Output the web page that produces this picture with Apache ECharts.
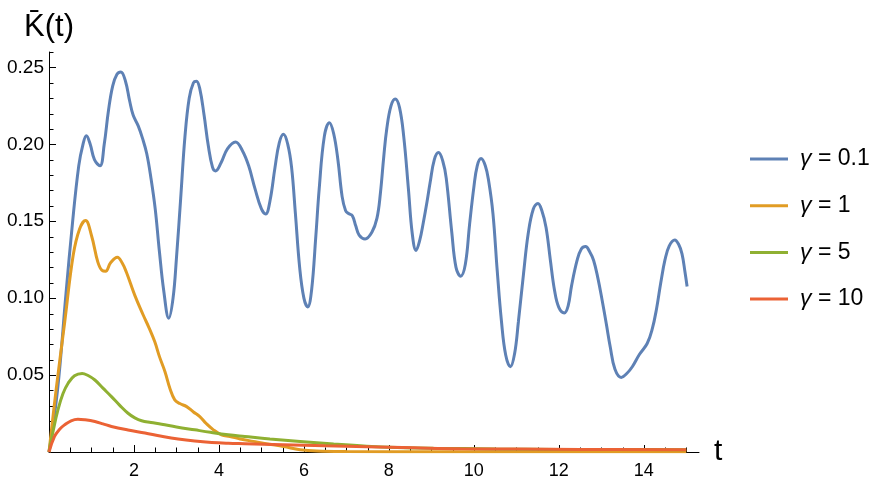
<!DOCTYPE html>
<html>
<head>
<meta charset="utf-8">
<script src="https://cdn.jsdelivr.net/npm/echarts@6/dist/echarts.min.js"></script>
<style>
  html, body { margin: 0; padding: 0; background: #fff; }
  #chart { width: 884px; height: 485px; }
</style>
</head>
<body>
<div id="chart"></div>
<script>
// [t, K]
const gamma01 = [
  [0, 0], [0.2, 0.04], [0.4, 0.103], [0.55, 0.148], [0.7, 0.186], [0.8, 0.2], [0.88, 0.2055],
  [0.97, 0.2], [1.07, 0.19], [1.2, 0.186], [1.3, 0.2], [1.4, 0.222], [1.5, 0.238], [1.6, 0.2455],
  [1.69, 0.247], [1.8, 0.241], [1.9, 0.228], [1.98, 0.219], [2.1, 0.212], [2.2, 0.204], [2.3, 0.194],
  [2.4, 0.178], [2.5, 0.158], [2.6, 0.13], [2.7, 0.105], [2.82, 0.087], [2.92, 0.1], [3.0, 0.126],
  [3.1, 0.165], [3.2, 0.205], [3.3, 0.23], [3.4, 0.24], [3.47, 0.241], [3.55, 0.236], [3.65, 0.219],
  [3.75, 0.199], [3.85, 0.185], [3.92, 0.1827], [4.05, 0.188], [4.2, 0.197], [4.39, 0.2015],
  [4.55, 0.196], [4.7, 0.186], [4.85, 0.171], [5.0, 0.158], [5.1, 0.1547], [5.2, 0.163], [5.32, 0.185],
  [5.42, 0.201], [5.52, 0.2065], [5.62, 0.2], [5.71, 0.185], [5.8, 0.155], [5.9, 0.12], [6.0, 0.1],
  [6.09, 0.0943], [6.18, 0.105], [6.28, 0.14], [6.36, 0.171], [6.48, 0.205], [6.6, 0.214], [6.7, 0.207],
  [6.8, 0.19], [6.9, 0.166], [6.98, 0.157], [7.05, 0.155], [7.14, 0.1536], [7.22, 0.147], [7.3, 0.141],
  [7.44, 0.1385], [7.6, 0.1428], [7.72, 0.152], [7.8, 0.168], [7.88, 0.192], [7.95, 0.21], [8.05, 0.225],
  [8.15, 0.2295], [8.25, 0.224], [8.35, 0.205], [8.46, 0.171], [8.55, 0.142], [8.64, 0.131], [8.73, 0.138],
  [8.81, 0.149], [8.9, 0.163], [8.97, 0.175], [9.07, 0.19], [9.17, 0.1946], [9.27, 0.189], [9.35, 0.178],
  [9.48, 0.143], [9.58, 0.12], [9.69, 0.1143], [9.8, 0.122], [9.9, 0.148], [10.0, 0.172], [10.08, 0.186],
  [10.17, 0.1907], [10.27, 0.186], [10.35, 0.176], [10.45, 0.155], [10.55, 0.118], [10.65, 0.085],
  [10.75, 0.063], [10.86, 0.0554], [10.96, 0.064], [11.05, 0.085], [11.17, 0.116], [11.28, 0.142],
  [11.4, 0.158], [11.51, 0.1616], [11.6, 0.157], [11.7, 0.146], [11.8, 0.125], [11.9, 0.105], [12.0, 0.094],
  [12.13, 0.0904], [12.22, 0.095], [12.3, 0.108], [12.43, 0.1245], [12.53, 0.132], [12.63, 0.1335],
  [12.73, 0.13], [12.82, 0.1245], [12.92, 0.113], [13.02, 0.0986], [13.12, 0.083], [13.21, 0.0684],
  [13.32, 0.054], [13.47, 0.0485], [13.6, 0.051], [13.73, 0.0554], [13.9, 0.0635], [14.08, 0.0705],
  [14.2, 0.08], [14.3, 0.093], [14.4, 0.11], [14.5, 0.125], [14.6, 0.134], [14.73, 0.1378], [14.82, 0.135],
  [14.9, 0.1288], [14.97, 0.117], [15.02, 0.1076]
];
const gamma1 = [
  [0, 0], [0.17, 0.041], [0.37, 0.0845], [0.57, 0.128], [0.72, 0.145], [0.86, 0.1504], [1.0, 0.1407],
  [1.15, 0.1234], [1.25, 0.118], [1.33, 0.1175], [1.45, 0.123], [1.61, 0.1266], [1.72, 0.123],
  [1.82, 0.117], [2.02, 0.1018], [2.22, 0.0889], [2.35, 0.081], [2.49, 0.0716], [2.6, 0.062],
  [2.73, 0.0522], [2.85, 0.041], [2.96, 0.0339], [3.08, 0.0315], [3.24, 0.0295], [3.4, 0.026],
  [3.55, 0.023], [3.7, 0.0185], [3.87, 0.0144], [4.06, 0.0112], [4.26, 0.0101], [4.5, 0.0085],
  [4.81, 0.0069], [5.15, 0.0052], [5.52, 0.0036], [5.91, 0.0015], [6.3, 0.0006], [7, 0.0003],
  [9, 0.0002], [12, 0.0002], [15, 0.0001]
];
const gamma5 = [
  [0, 0], [0.1, 0.014], [0.21, 0.0274], [0.33, 0.038], [0.45, 0.0447], [0.6, 0.0496], [0.78, 0.0511],
  [0.92, 0.0497], [1.08, 0.0468], [1.27, 0.0415], [1.47, 0.036], [1.66, 0.0305], [1.86, 0.0252],
  [2.02, 0.0222], [2.18, 0.0203], [2.4, 0.0192], [2.65, 0.0181], [3.0, 0.0163], [3.43, 0.0144],
  [3.8, 0.0128], [4.22, 0.0112], [4.61, 0.0101], [5.2, 0.0085], [5.91, 0.0069], [6.7, 0.0052],
  [7.48, 0.0038], [8.2, 0.003], [9.05, 0.0025], [10.5, 0.002], [12, 0.0017], [13.5, 0.0016], [15, 0.0015]
];
const gamma10 = [
  [0, 0], [0.13, 0.0101], [0.25, 0.0148], [0.37, 0.0177], [0.52, 0.0203], [0.68, 0.0213], [0.85, 0.0209],
  [1.08, 0.0198], [1.27, 0.0183], [1.47, 0.0166], [1.86, 0.0143], [2.26, 0.0123], [2.65, 0.0102],
  [3.04, 0.0084], [3.43, 0.0071], [3.83, 0.0062], [4.22, 0.0057], [4.61, 0.0054], [5.5, 0.0047],
  [6.5, 0.004], [7.48, 0.0034], [8.6, 0.0027], [9.68, 0.0021], [11, 0.0019], [12.5, 0.0017], [15, 0.0015]
];

const seriesNames = ['γ = 0.1', 'γ = 1', 'γ = 5', 'γ = 10'];
const seriesColors = ['#5E81B5', '#E19C24', '#8FB032', '#EB6235'];

const tTicks = [2, 4, 6, 8, 10, 12, 14];
const tMinorTicks = [0.5, 1, 1.5, 2.5, 3, 3.5, 4.5, 5, 5.5, 6.5, 7, 7.5, 8.5, 9, 9.5,
  10.5, 11, 11.5, 12.5, 13, 13.5, 14.5, 15];
const kTicks = [0.05, 0.10, 0.15, 0.20, 0.25];
const kMinorTicks = [0.01, 0.02, 0.03, 0.04, 0.06, 0.07, 0.08, 0.09, 0.11, 0.12, 0.13, 0.14,
  0.16, 0.17, 0.18, 0.19, 0.21, 0.22, 0.23, 0.24, 0.26];

const font = 'Liberation Sans, Arial, sans-serif';
const MAJOR = 7, MINOR = 4.5;

const chart = echarts.init(document.getElementById('chart'));

// axis ticks pointing into the plot, placed through the axes' own scales
function tTickItem(params, api) {
  const p = api.coord([api.value(0), 0]);
  const x = Math.round(p[0]) + 0.5;
  return {
    type: 'line',
    shape: { x1: x, y1: p[1], x2: x, y2: p[1] - api.value(1) },
    style: { stroke: '#000', lineWidth: 1 }
  };
}
function kTickItem(params, api) {
  const p = api.coord([0, api.value(0)]);
  const y = Math.round(p[1]) + 0.5;
  return {
    type: 'line',
    shape: { x1: p[0], y1: y, x2: p[0] + api.value(1), y2: y },
    style: { stroke: '#000', lineWidth: 1 }
  };
}

const lineSeries = [gamma01, gamma1, gamma5, gamma10].map((d, i) => ({
  name: seriesNames[i],
  type: 'line',
  data: d,
  smooth: 0.4,
  showSymbol: false,
  symbol: 'none',
  color: seriesColors[i],
  lineStyle: { width: 3, color: seriesColors[i] },
  z: 3
}));

chart.setOption({
  animation: false,
  grid: { left: 49, right: 185, top: 52, bottom: 33 },
  legend: {
    orient: 'vertical',
    left: 745,
    top: 141,
    icon: 'rect',
    itemWidth: 38,
    itemHeight: 3,
    itemGap: 20.7,
    data: seriesNames,
    formatter: name => name.replace('γ', '{g|γ}'),
    textStyle: {
      fontFamily: font, fontSize: 23, color: '#000', lineHeight: 26, padding: [0, 0, 0, 7],
      rich: { g: { fontFamily: font, fontSize: 23, fontStyle: 'italic', color: '#000' } }
    }
  },
  xAxis: {
    type: 'value',
    min: 0,
    max: 15.3,
    name: 't',
    nameLocation: 'end',
    nameGap: 15,
    nameTextStyle: { fontFamily: font, fontSize: 30, color: '#000' },
    splitLine: { show: false },
    axisLine: { show: true, lineStyle: { color: '#000' } },
    axisTick: { show: false },
    axisLabel: { customValues: tTicks, fontFamily: font, fontSize: 18, color: '#000', margin: 10 }
  },
  yAxis: {
    type: 'value',
    min: 0,
    max: 0.26,
    name: 'K\u0304(t)',
    nameLocation: 'end',
    nameGap: 9,
    nameTextStyle: { fontFamily: font, fontSize: 31, color: '#000', align: 'center' },
    splitLine: { show: false },
    axisLine: { show: true, lineStyle: { color: '#000' } },
    axisTick: { show: false },
    axisLabel: {
      customValues: kTicks, fontFamily: font, fontSize: 19, color: '#000', margin: 5,
      formatter: v => v.toFixed(2)
    }
  },
  series: lineSeries.concat([{
    type: 'custom',
    silent: true,
    clip: false,
    z: 2,
    renderItem: tTickItem,
    data: tTicks.map(v => [v, MAJOR]).concat(tMinorTicks.map(v => [v, MINOR]))
  }, {
    type: 'custom',
    silent: true,
    clip: false,
    z: 2,
    renderItem: kTickItem,
    data: kTicks.map(v => [v, MAJOR]).concat(kMinorTicks.map(v => [v, MINOR]))
  }])
});
</script>
</body>
</html>
